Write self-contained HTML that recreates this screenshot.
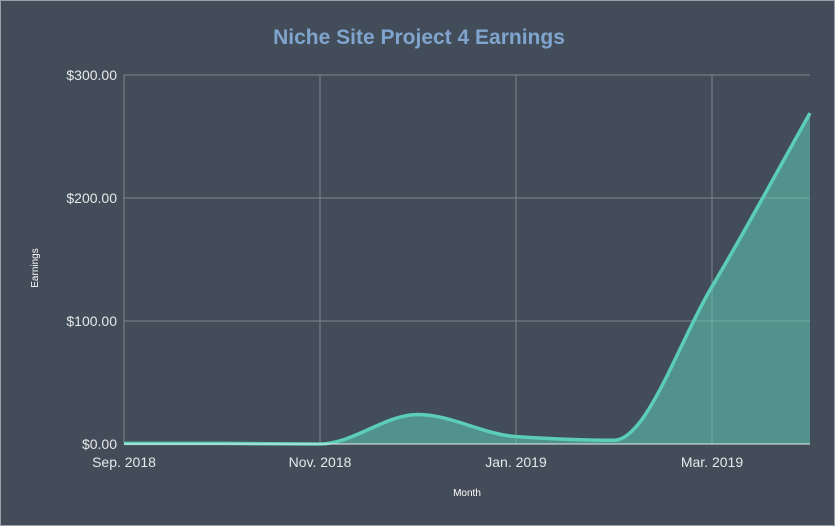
<!DOCTYPE html>
<html><head><meta charset="utf-8"><style>
html,body{margin:0;padding:0;background:#434d59;}
svg{display:block;font-family:"Liberation Sans",sans-serif;}
</style></head><body>
<svg id="chart" width="835" height="526">
<rect x="0.5" y="0.5" width="834" height="525" fill="#434d59" stroke="#9aa0a8"/>
<text x="419" y="44" text-anchor="middle" font-size="21" font-weight="bold" fill="#7fa5cf">Niche Site Project 4 Earnings</text>
<text transform="translate(38,268) rotate(-90)" text-anchor="middle" font-size="10" fill="#ffffff">Earnings</text>
<text x="467" y="496" text-anchor="middle" font-size="10" fill="#ffffff">Month</text>
<g id="grid"></g><g id="series"></g><g id="labels"></g>
</svg>
<script>
const months=["Sep. 2018","Oct. 2018","Nov. 2018","Dec. 2018","Jan. 2019","Feb. 2019","Mar. 2019","Apr. 2019"];
const earnings=[0.5,0.5,0,24,6,3,128,269];
const yTicks=[0,100,200,300];
const yTickLabels=["$0.00","$100.00","$200.00","$300.00"];
const xLabelIdx=[0,2,4,6];
const NS="http://www.w3.org/2000/svg";
const L=124,R=810,T=75,B=444;
const x=i=>L+(R-L)*i/(months.length-1);
const y=v=>B-(B-T)*v/300;
function mk(t,a,p){const e=document.createElementNS(NS,t);for(const k in a)e.setAttribute(k,a[k]);p.appendChild(e);return e;}
const grid=document.getElementById('grid'),lab=document.getElementById('labels'),ser=document.getElementById('series');
yTicks.forEach((v,i)=>{
 const l=mk('line',{x1:L,x2:R,y1:y(v),y2:y(v),stroke:v===0?'#e8eaec':'#7d8690','stroke-width':1},v===0?lab:grid);
 
 
 const t=mk('text',{x:L-7,y:y(v)+5,'text-anchor':'end','font-size':14,fill:'#e6e8ea'},lab);
 t.textContent=yTickLabels[i];
 
 
});
mk('line',{x1:L,x2:L,y1:T,y2:B,stroke:'#7d8690'},grid);
xLabelIdx.forEach(i=>{
 if(i>0){const g=mk('line',{x1:x(i),x2:x(i),y1:T,y2:B,stroke:'#7d8690'},grid);
 
 }
 const t=mk('text',{x:x(i),y:467,'text-anchor':'middle','font-size':14,fill:'#e6e8ea'},lab);
 t.textContent=months[i];
 
 
});
// monotone cubic
const px=months.map((m,i)=>x(i)),py=earnings.map(y),n=px.length;
const d=[],m=[];
for(let i=0;i<n-1;i++)d.push((py[i+1]-py[i])/(px[i+1]-px[i]));
for(let i=0;i<n;i++){
 if(i===0)m.push(d[0]);else if(i===n-1)m.push(d[n-2]);
 else m.push(d[i-1]*d[i]<=0?0:2/(1/d[i-1]+1/d[i]));
}
let p=`M${px[0]},${py[0]}`;
for(let i=0;i<n-1;i++){const h=(px[i+1]-px[i])/3;
 p+=` C${px[i]+h},${py[i]+m[i]*h} ${px[i+1]-h},${py[i+1]-m[i+1]*h} ${px[i+1]},${py[i+1]}`;}
const area=mk('path',{d:p+` L${px[n-1]},${B} L${px[0]},${B} Z`,fill:'#5ccdb7','fill-opacity':0.55},ser);


const line=mk('path',{d:p,fill:'none',stroke:'#5ccdb7','stroke-width':3.5},ser);


</script>
</body></html>
